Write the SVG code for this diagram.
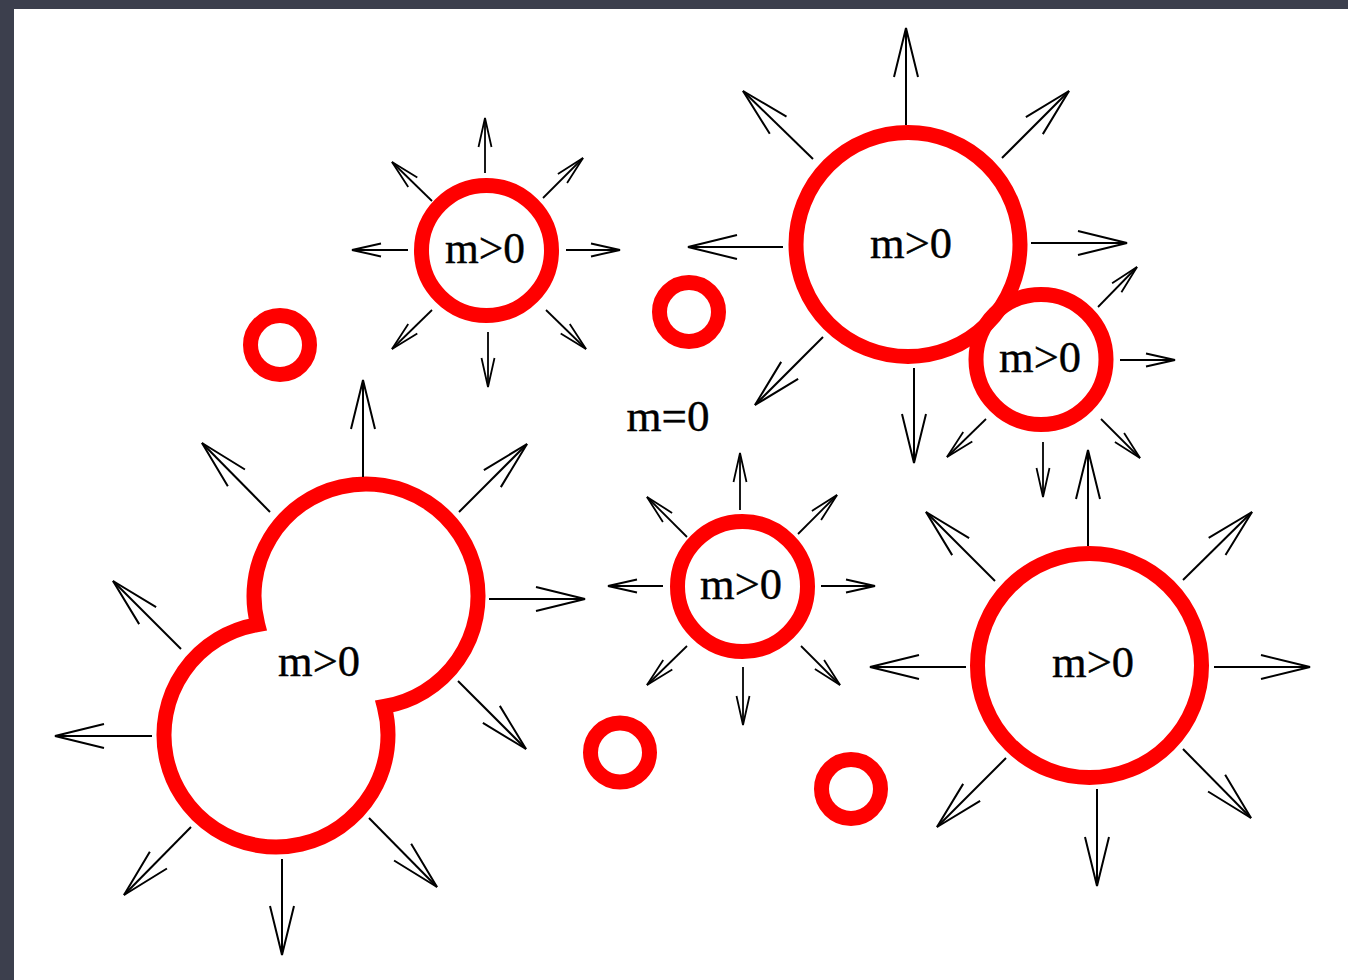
<svg xmlns="http://www.w3.org/2000/svg" width="1348" height="980" viewBox="0 0 1348 980">
  <style>
    .ring { fill: none; stroke: #ff0000; stroke-width: 15; stroke-miterlimit: 10; }
    .dot { fill: none; stroke: #ff0000; stroke-width: 15; }
    .lbl { font-family: "Liberation Serif", "Times New Roman", serif; font-size: 44px; fill: #000; stroke: #000; stroke-width: 0.4; text-anchor: middle; }
    .big { stroke: #000; stroke-width: 2; fill: none; marker-end: url(#headBig); }
    .small { stroke: #000; stroke-width: 1.8; fill: none; marker-end: url(#headSmall); }
  </style>
  <defs>
    <marker id="headBig" markerUnits="userSpaceOnUse" orient="auto" refX="0" refY="0" markerWidth="60" markerHeight="30" overflow="visible">
      <path d="M -49 -12 L 0 0 L -49 12" fill="none" stroke="#000" stroke-width="2"/>
    </marker>
    <marker id="headSmall" markerUnits="userSpaceOnUse" orient="auto" refX="0" refY="0" markerWidth="40" markerHeight="20" overflow="visible">
      <path d="M -29 -6.5 L 0 0 L -29 6.5" fill="none" stroke="#000" stroke-width="1.8"/>
    </marker>
  </defs>

  <!-- frame -->
  <rect x="0" y="0" width="1348" height="980" fill="#3c3f4d"/>
  <rect x="14" y="9" width="1334" height="971" fill="#ffffff"/>

  <!-- bubbles -->
  <g id="bubble-top-left">
    <circle class="ring" cx="486.5" cy="250.5" r="65"/>
    <text class="lbl" x="485" y="263" textLength="80" lengthAdjust="spacingAndGlyphs">m&gt;0</text>
  </g>
  <g id="bubble-top-right">
    <circle class="ring" cx="908" cy="244.5" r="112"/>
    <text class="lbl" x="911" y="258" textLength="82" lengthAdjust="spacingAndGlyphs">m&gt;0</text>
  </g>
  <g id="bubble-side">
    <circle class="ring" cx="1041" cy="359.5" r="65"/>
    <text class="lbl" x="1040" y="372" textLength="82" lengthAdjust="spacingAndGlyphs">m&gt;0</text>
  </g>
  <g id="bubble-bottom-right">
    <circle class="ring" cx="1089.5" cy="665.5" r="112"/>
    <text class="lbl" x="1093" y="677" textLength="82" lengthAdjust="spacingAndGlyphs">m&gt;0</text>
  </g>
  <g id="bubble-center">
    <circle class="ring" cx="742.5" cy="586.5" r="65"/>
    <text class="lbl" x="741" y="599" textLength="82" lengthAdjust="spacingAndGlyphs">m&gt;0</text>
  </g>
  <g id="bubble-merged">
    <path class="ring" d="M 257.7 624.5 A 112 112 0 1 1 384.3 706.5 A 112 112 0 1 1 257.7 624.5 Z"/>
    <text class="lbl" x="319" y="676" textLength="82" lengthAdjust="spacingAndGlyphs">m&gt;0</text>
  </g>

  <!-- massless seeds -->
  <g id="seed-1"><circle class="dot" cx="280" cy="345" r="29.5"/></g>
  <g id="seed-2"><circle class="dot" cx="689" cy="312" r="29.5"/></g>
  <g id="seed-3"><circle class="dot" cx="620" cy="752.5" r="29.5"/></g>
  <g id="seed-4"><circle class="dot" cx="851" cy="789" r="29.5"/></g>
  <g id="label-m0">
    <text class="lbl" x="668" y="431" textLength="83" lengthAdjust="spacingAndGlyphs">m=0</text>
  </g>

  <!-- outward arrows -->
  <g id="connectors">
    <!-- top-left bubble -->
    <line class="small" x1="485" y1="173" x2="485" y2="118"/>
    <line class="small" x1="543" y1="198" x2="583" y2="158"/>
    <line class="small" x1="566" y1="250" x2="620" y2="250"/>
    <line class="small" x1="546" y1="310" x2="586" y2="349"/>
    <line class="small" x1="488" y1="332" x2="488" y2="387"/>
    <line class="small" x1="432" y1="310" x2="392" y2="349"/>
    <line class="small" x1="408" y1="250" x2="352" y2="250"/>
    <line class="small" x1="432" y1="201" x2="392" y2="162"/>
    <!-- top-right bubble -->
    <line class="big" x1="906" y1="125" x2="906" y2="28"/>
    <line class="big" x1="1002" y1="158" x2="1069" y2="91"/>
    <line class="big" x1="1031" y1="243" x2="1127" y2="243"/>
    <line class="big" x1="914" y1="368" x2="914" y2="463"/>
    <line class="big" x1="823" y1="337" x2="755" y2="405"/>
    <line class="big" x1="783" y1="247" x2="688" y2="247"/>
    <line class="big" x1="813" y1="159" x2="743" y2="91"/>
    <!-- side bubble -->
    <line class="small" x1="1098" y1="307" x2="1137" y2="267"/>
    <line class="small" x1="1120" y1="360" x2="1175" y2="360"/>
    <line class="small" x1="1101" y1="419" x2="1140" y2="458"/>
    <line class="small" x1="1043" y1="442" x2="1043" y2="497"/>
    <line class="small" x1="986" y1="419" x2="947" y2="457"/>
    <!-- bottom-right bubble -->
    <line class="big" x1="1088" y1="546" x2="1088" y2="450"/>
    <line class="big" x1="1183" y1="580" x2="1252" y2="512"/>
    <line class="big" x1="1214" y1="667" x2="1310" y2="667"/>
    <line class="big" x1="1183" y1="749" x2="1251" y2="818"/>
    <line class="big" x1="1097" y1="789" x2="1097" y2="886"/>
    <line class="big" x1="1006" y1="758" x2="937" y2="827"/>
    <line class="big" x1="966" y1="667" x2="870" y2="667"/>
    <line class="big" x1="995" y1="581" x2="926" y2="512"/>
    <!-- center bubble -->
    <line class="small" x1="740" y1="510" x2="740" y2="453"/>
    <line class="small" x1="798" y1="534" x2="837" y2="495"/>
    <line class="small" x1="821" y1="586" x2="875" y2="586"/>
    <line class="small" x1="801" y1="646" x2="840" y2="685"/>
    <line class="small" x1="743" y1="667" x2="743" y2="725"/>
    <line class="small" x1="687" y1="646" x2="647" y2="685"/>
    <line class="small" x1="663" y1="586" x2="608" y2="586"/>
    <line class="small" x1="687" y1="537" x2="647" y2="497"/>
    <!-- merged bubble -->
    <line class="big" x1="363" y1="477" x2="363" y2="380"/>
    <line class="big" x1="459" y1="512" x2="527" y2="444"/>
    <line class="big" x1="489" y1="599" x2="585" y2="599"/>
    <line class="big" x1="458" y1="681" x2="526" y2="749"/>
    <line class="big" x1="270" y1="512" x2="202" y2="443"/>
    <line class="big" x1="181" y1="649" x2="113" y2="581"/>
    <line class="big" x1="152" y1="736" x2="55" y2="736"/>
    <line class="big" x1="191" y1="827" x2="124" y2="895"/>
    <line class="big" x1="282" y1="859" x2="282" y2="955"/>
    <line class="big" x1="369" y1="818" x2="437" y2="887"/>
  </g>
</svg>
